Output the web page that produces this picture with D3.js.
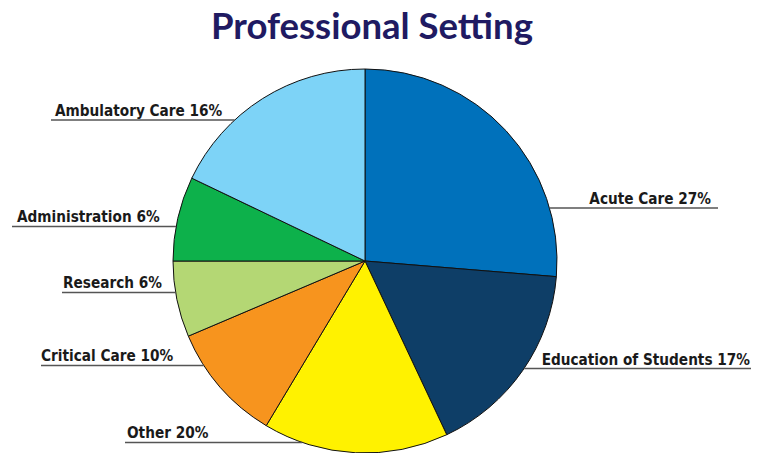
<!DOCTYPE html>
<html>
<head>
<meta charset="utf-8">
<script src="https://cdn.jsdelivr.net/npm/d3@7"></script>
<style>
  body { margin: 0; background: #fff; }
  .label { font-family: "DejaVu Sans Condensed", "DejaVu Sans", sans-serif; font-stretch: condensed; font-weight: bold; font-size: 15.2px; fill: #1a1a1a; }
  .title { font-family: Lato, "Open Sans", sans-serif; font-weight: bold; fill: #201a62; }
</style>
</head>
<body>
<div id="chart"></div>
<script>
  // slice data, clockwise from 12 o'clock
  const categories = ["Acute Care", "Education of Students", "Other", "Critical Care", "Research", "Administration", "Ambulatory Care"],
    shares = [26.3, 16.7, 15.6, 10.0, 6.4, 7.1, 17.9],     // slice sizes as drawn
    labelPct = [27, 17, 20, 10, 6, 6, 16],                 // percentages as printed
    colors = ["#0071bb", "#0e3e67", "#fff200", "#f7941e", "#b4d774", "#0db14b", "#7dd3f7"];

  const width = 767, height = 453,
    cx = 365, cy = 261, radius = 192;

  // label placement: side, text x, baseline y, leader outer x, leader y
  const labelPos = [
    {side: "r", tx: 711, ty: 204, lx: 718, ly: 208},
    {side: "r", tx: 750, ty: 364.5, lx: 751, ly: 368.5},
    {side: "l", tx: 127, ty: 438, lx: 125, ly: 442.5},
    {side: "l", tx: 41,  ty: 361, lx: 41,  ly: 365.5},
    {side: "l", tx: 63,  ty: 288, lx: 62,  ly: 292.5},
    {side: "l", tx: 17,  ty: 222, lx: 12,  ly: 226.5},
    {side: "l", tx: 55,  ty: 115.5, lx: 51,  ly: 120}
  ];

  const svg = d3.select("#chart").append("svg")
      .attr("width", width)
      .attr("height", height);

  //title, squeezed to the reference width
  const title = svg.append("text")
      .attr("class", "title")
      .attr("x", 372)
      .attr("y", 39)
      .attr("text-anchor", "middle")
      .style("font-size", "37px")
      .text("Professional Setting");
  const tw = title.node().getComputedTextLength();
  if (tw > 322) title.attr("textLength", 322).attr("lengthAdjust", "spacingAndGlyphs");

  const pie = d3.pie().sort(null).value((d) => d);
  const arc = d3.arc().innerRadius(0).outerRadius(radius);

  const g = svg.append("g")
      .attr("transform", "translate(" + cx + "," + cy + ")");

  g.selectAll(".slice")
    .data(pie(shares))
    .enter().append("path")
      .attr("class", "slice")
      .attr("d", arc)
      .attr("fill", (d, i) => colors[i])
      .attr("stroke", "#111")
      .attr("stroke-width", 1)
      .attr("stroke-linejoin", "round");

  //leader lines run from the label out to the pie rim
  const rimX = function(p){
    const dy = p.ly - cy;
    const dx = Math.sqrt(Math.max(0, radius * radius - dy * dy));
    return p.side === "r" ? cx + dx : cx - dx;
  };

  svg.selectAll(".leader")
    .data(labelPos)
    .enter().append("line")
      .attr("class", "leader")
      .attr("x1", (d) => d.lx)
      .attr("x2", (d) => rimX(d))
      .attr("y1", (d) => d.ly)
      .attr("y2", (d) => d.ly)
      .attr("stroke", "#555")
      .attr("stroke-width", 1.5);

  svg.selectAll(".label")
    .data(labelPos)
    .enter().append("text")
      .attr("class", "label")
      .attr("x", (d) => d.tx)
      .attr("y", (d) => d.ty)
      .attr("text-anchor", (d) => d.side === "r" ? "end" : "start")
      .text((d, i) => categories[i] + " " + labelPct[i] + "%");
</script>
</body>
</html>
